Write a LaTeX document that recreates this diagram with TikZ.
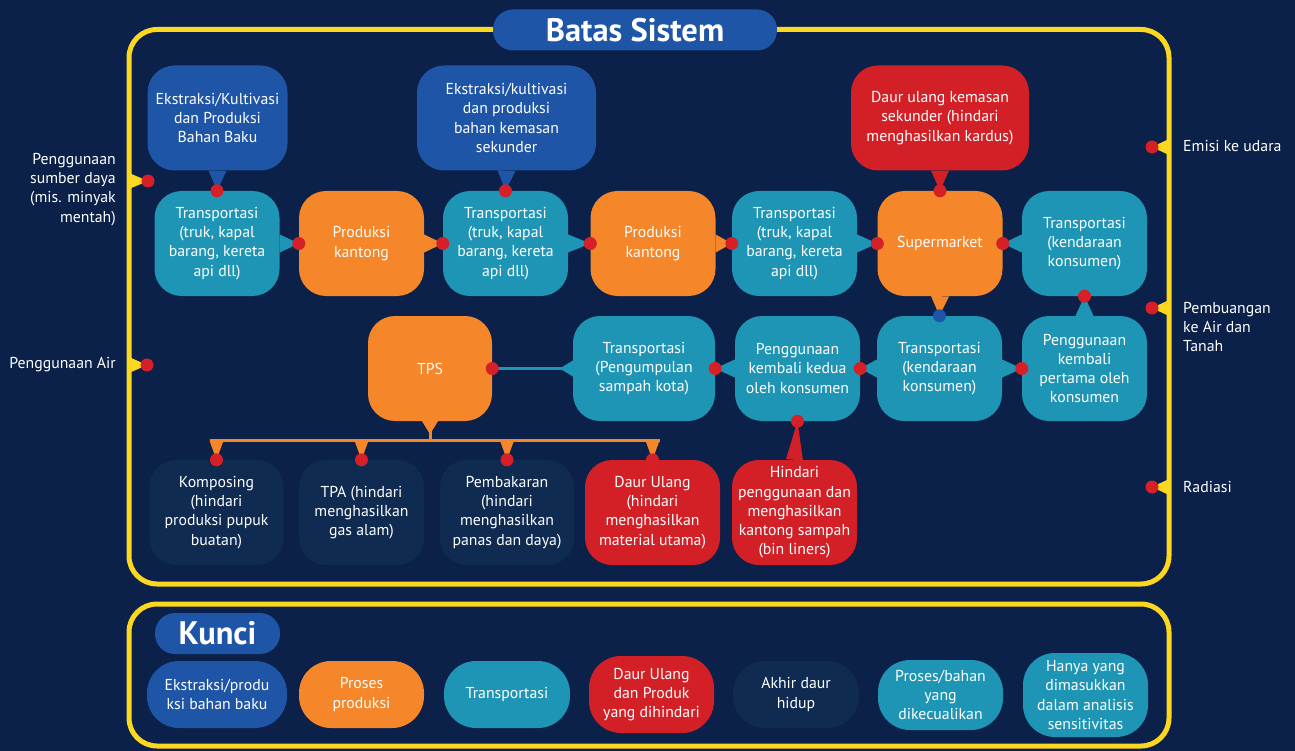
\documentclass[tikz,border=0pt]{standalone}
\usepackage{fontspec}
\setmainfont{PT Sans}
\usetikzlibrary{calc}
\definecolor{bgnavy}{HTML}{0B2149}
\definecolor{myyel}{HTML}{FCD720}
\definecolor{myblue}{HTML}{1F55A6}
\definecolor{myorange}{HTML}{F5862A}
\definecolor{myteal}{HTML}{1F95B5}
\definecolor{myred}{HTML}{D32027}
\definecolor{mydark}{HTML}{102B52}
\definecolor{dotred}{HTML}{D62028}
\definecolor{dotblue}{HTML}{1F55A6}
\newcommand{\boxfont}{\fontsize{15.8}{19.2}\selectfont}
\newcommand{\conn}[5][9pt]{%
  \fill[#2] ($(#4)!#1!90:(#5)$) -- (#5) -- ($(#4)!#1!-90:(#5)$) -- cycle;
  \fill[#3] (#5) circle (6.5pt);}
\tikzset{
  basebox/.style={rounded corners=27pt, minimum height=105pt, minimum width=125pt,
    align=center, font=\boxfont, text=white, inner sep=0pt},
  bbox/.style={basebox, fill=myblue},
  obox/.style={basebox, fill=myorange},
  tbox/.style={basebox, fill=myteal},
  rbox/.style={basebox, fill=myred},
  dbox/.style={basebox, fill=mydark},
  keybox/.style={rounded corners=32pt, minimum height=67pt, minimum width=125pt,
    align=center, font=\boxfont, text=white, inner sep=0pt},
  frame/.style={draw=myyel, line width=5pt, rounded corners=28pt},
  pill/.style={fill=myblue, rounded corners=20pt, minimum height=41pt,
    text=white, font=\fontsize{32.5}{36}\selectfont\bfseries, inner sep=0pt},
  sidelabel/.style={font=\boxfont, text=white, inner sep=0pt},
}
\begin{document}
\begin{tikzpicture}[x=1pt,y=-1pt]
\fill[bgnavy] (0,0) rectangle (1295,751);
\useasboundingbox (0,0) rectangle (1295,751);

% frames
\draw[frame] (129,29.5) rectangle (1169,584);
\draw[frame] (129,604) rectangle (1169,746);
\node[pill, minimum width=284pt] (title) at (635,30) {Batas Sistem};
\node[pill, minimum width=125pt] (kunci) at (217.5,633.5) {Kunci};

% top row
\node[bbox, minimum width=140pt] (e1) at (217.5,118) {Ekstraksi/Kultivasi\\dan Produksi\\Bahan Baku};
\node[bbox, minimum width=179pt] (e2) at (506.5,118) {Ekstraksi/kultivasi\\dan produksi\\bahan kemasan\\sekunder};
\node[rbox, minimum width=178pt] (du) at (940,118) {Daur ulang kemasan\\sekunder (hindari\\menghasilkan kardus)};

% row 1
\node[tbox] (t1) at (217,243.5) {Transportasi\\(truk, kapal\\barang, kereta\\api dll)};
\node[obox] (p1) at (361.5,243.5) {Produksi\\kantong};
\node[tbox] (t2) at (505.5,243.5) {Transportasi\\(truk, kapal\\barang, kereta\\api dll)};
\node[obox] (p2) at (653,243.5) {Produksi\\kantong};
\node[tbox] (t3) at (794.5,243.5) {Transportasi\\(truk, kapal\\barang, kereta\\api dll)};
\node[obox] (sm) at (940,243.5) {Supermarket};
\node[tbox] (tk1) at (1084.5,243.5) {Transportasi\\(kendaraan\\konsumen)};

% row 2
\node[obox, minimum width=124pt] (tps) at (430,368.5) {TPS};
\node[tbox, minimum width=142pt] (tpg) at (644,368.5) {Transportasi\\(Pengumpulan\\sampah kota)};
\node[tbox] (pk2) at (797.5,368.5) {Penggunaan\\kembali kedua\\oleh konsumen};
\node[tbox] (tk2) at (939.5,368.5) {Transportasi\\(kendaraan\\konsumen)};
\node[tbox] (pk1) at (1084.5,368.5) {Penggunaan\\kembali\\pertama oleh\\konsumen};

% row 3
\node[dbox, minimum width=134pt] (kom) at (216.5,512.5) {Komposing\\(hindari\\produksi pupuk\\buatan)};
\node[dbox] (tpa) at (361.5,512.5) {TPA (hindari\\menghasilkan\\gas alam)};
\node[dbox, minimum width=134pt] (pem) at (507,512.5) {Pembakaran\\(hindari\\menghasilkan\\panas dan daya)};
\node[rbox, minimum width=135pt] (dul) at (652.5,512.5) {Daur Ulang\\(hindari\\menghasilkan\\material utama)};
\node[rbox] (hin) at (794.5,512.5) {Hindari\\penggunaan dan\\menghasilkan\\kantong sampah\\(bin liners)};

% connectors row 1
\conn{myblue}{dotred}{e1.south}{t1.north}
\conn{myteal}{dotred}{t1.east}{p1.west}
\conn{myorange}{dotred}{p1.east}{t2.west}
\conn{myblue}{dotred}{e2.south}{t2.north}
\conn{myteal}{dotred}{t2.east}{p2.west}
\conn{myorange}{dotred}{p2.east}{t3.west}
\conn{myteal}{dotred}{t3.east}{sm.west}
\conn{myred}{dotred}{du.south}{sm.north}
\conn{myteal}{dotred}{tk1.west}{sm.east}
\conn{myorange}{dotblue}{sm.south}{tk2.north}
\conn{myteal}{dotred}{pk1.north}{tk1.south}
% row 2
\conn{myteal}{dotred}{tk2.east}{pk1.west}
\conn{myteal}{dotred}{tk2.west}{pk2.east}
\conn{myteal}{dotred}{pk2.west}{tpg.east}
\conn[8.5pt]{myred}{dotred}{hin.north}{pk2.south}
\draw[myteal, line width=3.5pt] (tps.east) -- (tpg.west);
\fill[myteal] ($(tpg.west)+(0,-8)$) -- ($(tpg.west)+(-13,0)$) -- ($(tpg.west)+(0,8)$) -- cycle;
\fill[dotred] (tps.east) circle (6.5pt);

% TPS branches
\coordinate (tb) at ($(tps.south)+(0,19.5)$);
\coordinate (bk) at (kom.north |- tb);
\coordinate (bt) at (tpa.north |- tb);
\coordinate (bp) at (pem.north |- tb);
\coordinate (bd) at (dul.north |- tb);
\fill[myorange] ($(tps.south)+(-8,0)$) -- ($(tps.south)+(0,13)$) -- ($(tps.south)+(8,0)$) -- cycle;
\draw[myorange, line width=3pt] ($(tps.south)+(0,10)$) -- (tb);
\draw[myorange, line width=3pt] ($(bk)+(-7,0)$) -- ($(bd)+(7,0)$);
\conn[7pt]{myorange}{dotred}{bk}{kom.north}
\conn[7pt]{myorange}{dotred}{bt}{tpa.north}
\conn[7pt]{myorange}{dotred}{bp}{pem.north}
\conn[7pt]{myorange}{dotred}{bd}{dul.north}

% boundary flows
\coordinate (fl1) at (129,181); \coordinate (ml1) at (148,181);
\coordinate (fl2) at (129,365); \coordinate (ml2) at (147,365);
\coordinate (fr1) at (1169,147); \coordinate (mr1) at (1152,147);
\coordinate (fr2) at (1169,308); \coordinate (mr2) at (1152,308);
\coordinate (fr3) at (1169,487); \coordinate (mr3) at (1152,487);
\conn[8pt]{myyel}{dotred}{fl1}{ml1}
\conn[8pt]{myyel}{dotred}{fl2}{ml2}
\conn[8pt]{myyel}{dotred}{fr1}{mr1}
\conn[8pt]{myyel}{dotred}{fr2}{mr2}
\conn[8pt]{myyel}{dotred}{fr3}{mr3}
\node[sidelabel, anchor=east, align=right] (l1) at (116,189.5) {Penggunaan\\sumber daya\\(mis. minyak\\mentah)};
\node[sidelabel, anchor=east, align=right] (l2) at (116,365) {Penggunaan Air};
\node[sidelabel, anchor=west, align=left] (r1) at (1183,146) {Emisi ke udara};
\node[sidelabel, anchor=west, align=left] (r2) at (1183,327) {Pembuangan\\ke Air dan\\Tanah};
\node[sidelabel, anchor=west, align=left] (r3) at (1183,487) {Radiasi};

% key
\node[keybox, fill=myblue, minimum width=140pt] (k1) at (217,694.5) {Ekstraksi/produ\\ksi bahan baku};
\node[keybox, fill=myorange] (k2) at (361.5,694.5) {Proses\\produksi};
\node[keybox, fill=myteal, minimum width=126pt] (k3) at (507,694.5) {Transportasi};
\node[keybox, fill=myred, minimum height=77pt] (k4) at (651.5,694.5) {Daur Ulang\\dan Produk\\yang dihindari};
\node[keybox, fill=mydark, minimum width=126pt] (k5) at (796,694.5) {Akhir daur\\hidup};
\node[keybox, fill=myteal, minimum height=70pt] (k6) at (940.5,695) {Proses/bahan\\yang\\dikecualikan};
\node[keybox, fill=myteal, minimum height=84pt] (k7) at (1085.5,695) {Hanya yang\\dimasukkan\\dalam analisis\\sensitivitas};
\end{tikzpicture}
\end{document}
